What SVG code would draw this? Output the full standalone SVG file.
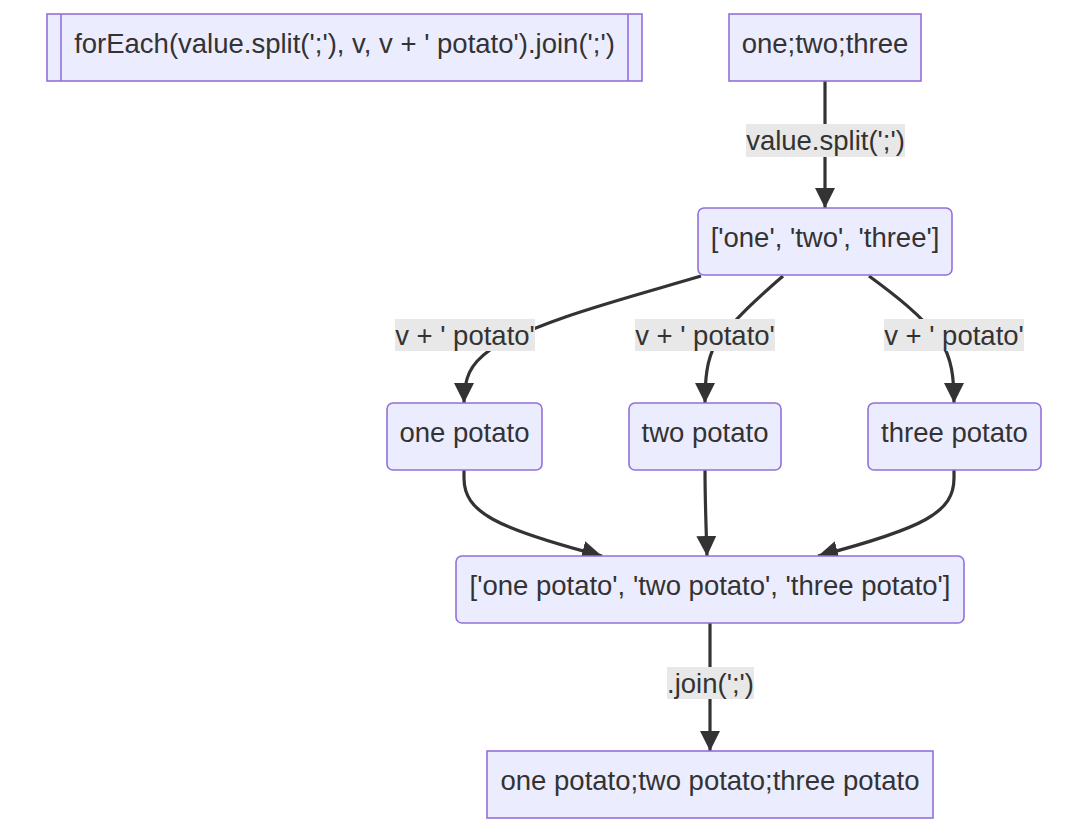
<svg xmlns="http://www.w3.org/2000/svg" width="1088" height="832" viewBox="0 0 1088 832">
<defs>
<style>
.node rect{fill:#ECECFF;stroke:#9370DB;stroke-width:1.6}
.node line{stroke:#9370DB;stroke-width:1.6}
text{font-family:"Liberation Sans",Arial,sans-serif;font-size:27.5px;fill:#333333;text-anchor:middle}
.edge{fill:none;stroke:#333333;stroke-width:3.2}
.lbl rect{fill:#e8e8e8}
</style>
<marker id="arrow" viewBox="0 0 10 10" refX="10" refY="5" markerUnits="userSpaceOnUse" markerWidth="20" markerHeight="20" orient="auto">
<path d="M0,0 L10,5 L0,10 z" fill="#333333"/>
</marker>
</defs>
<rect width="1088" height="832" fill="#ffffff"/>
<g id="connectors">
<path class="edge" d="M825,81 L825,208" marker-end="url(#arrow)"/>
<path class="edge" d="M701,276 C620,300 540,320 490,350 C470,364 464,378 464,403" marker-end="url(#arrow)"/>
<path class="edge" d="M783,276 C760,296 735,318 715,345 C707,360 705,378 705,403" marker-end="url(#arrow)"/>
<path class="edge" d="M869,276 C895,295 922,316 940,340 C952,358 954,378 954,403" marker-end="url(#arrow)"/>
<path class="edge" d="M464,470 L464,478 C464,512 495,528 602,556" marker-end="url(#arrow)"/>
<path class="edge" d="M705,470 C705,500 706,525 707,556" marker-end="url(#arrow)"/>
<path class="edge" d="M954,470 L954,478 C954,512 925,528 818,556" marker-end="url(#arrow)"/>
<path class="edge" d="M710,623 L710,751" marker-end="url(#arrow)"/>
<g class="lbl"><rect x="746" y="124" width="159" height="33"/><text x="825.5" y="150">value.split(';')</text></g>
<g class="lbl"><rect x="395" y="319" width="140" height="32"/><text x="465" y="345">v + ' potato'</text></g>
<g class="lbl"><rect x="635" y="319" width="140" height="32"/><text x="705" y="345">v + ' potato'</text></g>
<g class="lbl"><rect x="884" y="319" width="140" height="32"/><text x="954" y="345">v + ' potato'</text></g>
<g class="lbl"><rect x="667" y="667" width="87" height="32"/><text x="710.5" y="693">.join(';')</text></g>
</g>
<g id="node-foreach" class="node">
<rect x="47" y="14" width="595" height="67"/>
<line x1="61" y1="14" x2="61" y2="81"/>
<line x1="628" y1="14" x2="628" y2="81"/>
<text x="344.5" y="53">forEach(value.split(';'), v, v + ' potato').join(';')</text>
</g>
<g id="node-input" class="node">
<rect x="729" y="14" width="192" height="67"/>
<text x="825" y="53">one;two;three</text>
</g>
<g id="node-split" class="node">
<rect x="698" y="208" width="254" height="67" rx="6"/>
<text x="825" y="247">['one', 'two', 'three']</text>
</g>
<g id="node-one" class="node">
<rect x="387" y="403" width="155" height="67" rx="6"/>
<text x="464.5" y="442">one potato</text>
</g>
<g id="node-two" class="node">
<rect x="629" y="403" width="152" height="67" rx="6"/>
<text x="705" y="442">two potato</text>
</g>
<g id="node-three" class="node">
<rect x="868" y="403" width="173" height="67" rx="6"/>
<text x="954.5" y="442">three potato</text>
</g>
<g id="node-array" class="node">
<rect x="456" y="556" width="508" height="67" rx="6"/>
<text x="710" y="595">['one potato', 'two potato', 'three potato']</text>
</g>
<g id="node-result" class="node">
<rect x="487" y="751" width="446" height="67"/>
<text x="710" y="790">one potato;two potato;three potato</text>
</g>
</svg>
